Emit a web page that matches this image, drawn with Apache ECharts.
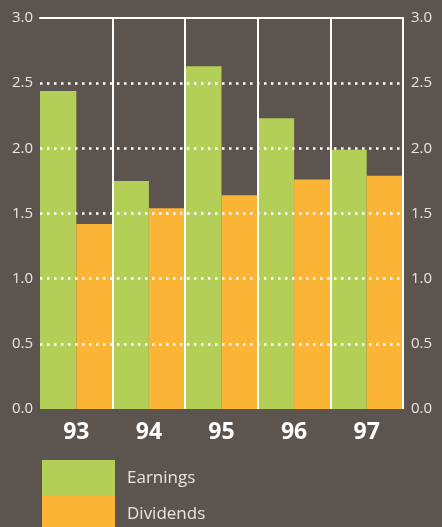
<!DOCTYPE html>
<html>
<head>
<meta charset="utf-8">
<script src="https://cdn.jsdelivr.net/npm/echarts@6/dist/echarts.min.js"></script>
<style>
  html, body { margin: 0; padding: 0; background: #5c554f; }
  #chart { width: 442px; height: 527px; }
</style>
</head>
<body>
<div id="chart"></div>
<script>
const years = ["93", "94", "95", "96", "97"];
const earnings = [2.44, 1.75, 2.63, 2.23, 1.99];
const dividends = [1.42, 1.54, 1.64, 1.76, 1.79];
const yMin = 0;
const yMax = 3;
const yStep = 0.5;

const chart = echarts.init(document.getElementById("chart"));

const fmt = (v) => v.toFixed(1);
const labelColor = "#e9e5de";
const font = "'Open Sans', 'DejaVu Sans', sans-serif";

// one legend per row so the boxes stack right on top of each other
const legendRow = (name, top) => ({
  orient: "vertical",
  left: 42,
  top: top,
  padding: 0,
  itemWidth: 73,
  itemHeight: 36,
  icon: "rect",
  textStyle: { color: labelColor, fontSize: 17, fontFamily: font, padding: [0, 0, 0, 7] },
  data: [name],
});

const option = {
  backgroundColor: "#5c554f",
  animation: false,
  grid: { left: 40, right: 39, top: 18, bottom: 118 },
  legend: [legendRow("Earnings", 460), legendRow("Dividends", 496)],
  xAxis: [
    {
      type: "category",
      data: years,
      z: 3,
      axisLine: { show: false },
      axisTick: { show: false },
      axisLabel: {
        color: "#ffffff",
        fontSize: 23,
        fontWeight: "bold",
        fontFamily: font,
        margin: 12,
      },
      splitLine: {
        show: true,
        showMinLine: false,
        lineStyle: { color: "#ffffff", width: 2, type: "solid" },
      },
    },
    {
      type: "category",
      data: years,
      position: "top",
      z: 3,
      axisLine: { show: true, onZero: false, lineStyle: { color: "#ffffff", width: 2 } },
      axisTick: { show: false },
      axisLabel: { show: false },
    },
  ],
  yAxis: [
    {
      type: "value",
      min: yMin,
      max: yMax,
      interval: yStep,
      z: 3,
      axisLine: { show: false },
      axisTick: { show: false },
      axisLabel: { color: labelColor, fontSize: 15, fontFamily: font, margin: 7, formatter: fmt },
      splitLine: {
        show: true,
        showMinLine: false,
        showMaxLine: false,
        lineStyle: { color: "#ffffff", width: 2.5, type: [2.5, 4.5] },
      },
    },
    {
      type: "value",
      min: yMin,
      max: yMax,
      interval: yStep,
      position: "right",
      axisLine: { show: false },
      axisTick: { show: false },
      axisLabel: { color: labelColor, fontSize: 15, fontFamily: font, margin: 8, formatter: fmt },
      splitLine: { show: false },
    },
  ],
  series: [
    {
      name: "Earnings",
      type: "bar",
      data: earnings,
      barGap: 0,
      barCategoryGap: 0,
      itemStyle: { color: "#b4cf58" },
    },
    {
      name: "Dividends",
      type: "bar",
      data: dividends,
      barGap: 0,
      barCategoryGap: 0,
      itemStyle: { color: "#fcb437" },
    },
  ],
};

chart.setOption(option);
</script>
</body>
</html>
